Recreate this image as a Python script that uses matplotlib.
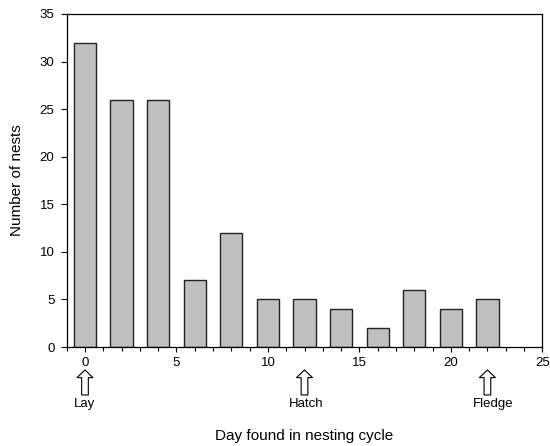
import matplotlib
matplotlib.use("Agg")
import numpy as np
from matplotlib import pyplot as plt
from matplotlib.ticker import MultipleLocator

plt.rcParams["font.family"] = ["Liberation Sans", "DejaVu Sans"]

# nests found per 2-day bin
days = [0, 2, 4, 6, 8, 10, 12, 14, 16, 18, 20, 22]
nests = [32, 26, 26, 7, 12, 5, 5, 4, 2, 6, 4, 5]

# nesting stage markers
stage_days = [0, 12, 22]
stage_labels = ["Lay", "Hatch", "Fledge"]
stage_label_x = [0, 12.1, 22.3]

fig = plt.figure(figsize=(5.5, 4.46), dpi=100)
ax = fig.add_axes([66.7 / 550, 1 - 347 / 446, (542.3 - 66.7) / 550, 333 / 446])

ax.bar(days, nests, width=1.22, color="#c0c0c0", edgecolor="#222222", linewidth=1.0, zorder=2)

ax.set_xlim(-1, 25)
ax.set_ylim(0, 35)
ax.xaxis.set_major_locator(MultipleLocator(5))
ax.xaxis.set_minor_locator(MultipleLocator(1))
ax.yaxis.set_major_locator(MultipleLocator(5))
ax.tick_params(axis="both", which="both", direction="out", labelsize=9.5, width=0.8)
ax.tick_params(axis="x", which="major", length=3.5, pad=4)
ax.tick_params(axis="x", which="minor", length=3)
ax.tick_params(axis="y", which="major", length=4.3, pad=4.5)
for s in ax.spines.values():
    s.set_linewidth(0.9)

ax.set_xlabel("Day found in nesting cycle", fontsize=11, va="center")
ax.xaxis.set_label_coords(0.5, -(436 - 347) / 333)
ax.set_ylabel("Number of nests", fontsize=11, va="center")
ax.yaxis.set_label_coords(-(66.7 - 17) / 475.6, 0.5)

# hollow arrows below the axis
for d, lab, lx in zip(stage_days, stage_labels, stage_label_x):
    ax.annotate("", xy=(d, -0.069), xycoords=("data", "axes fraction"),
                xytext=(d, -0.144), textcoords=("data", "axes fraction"),
                arrowprops=dict(arrowstyle="simple,head_length=5.5,head_width=11.5,tail_width=4.8",
                                mutation_scale=1, fc="white", ec="black", lw=0.8,
                                shrinkA=0, shrinkB=0),
                annotation_clip=False)
    ax.text(lx, -0.172, lab, transform=ax.get_xaxis_transform(), ha="center", va="center", fontsize=9.5)

fig.savefig("out.png", dpi=100)
